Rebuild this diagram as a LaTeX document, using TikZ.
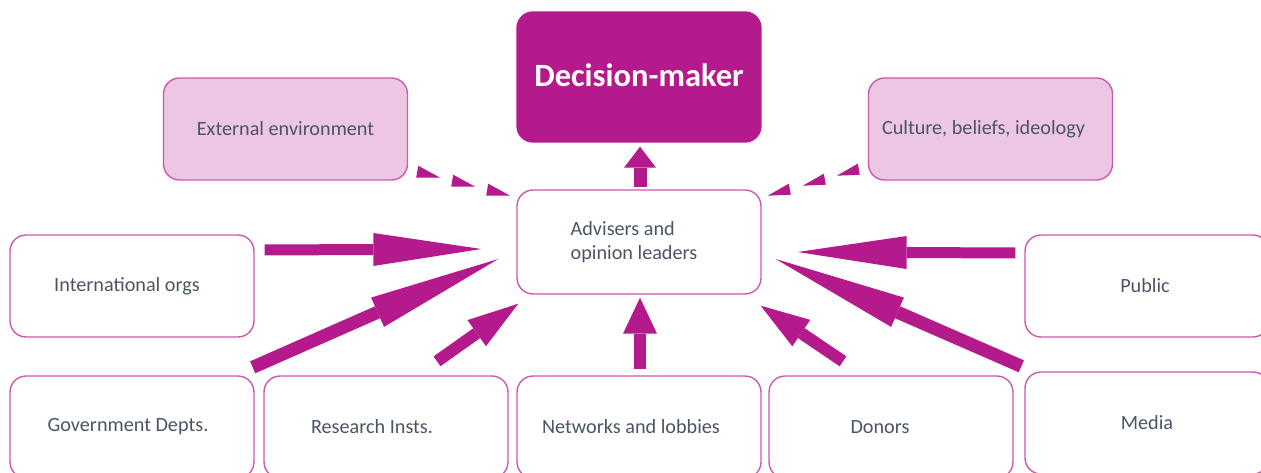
\documentclass[tikz,border=0pt]{standalone}
\usepackage{fontspec}
\setmainfont{Carlito}
\usepackage{tikz}
\usetikzlibrary{arrows.meta}
\definecolor{plum}{HTML}{B41A8B}
\definecolor{pinkfill}{HTML}{EDC6E3}
\definecolor{pinkline}{HTML}{CB5AAE}
\definecolor{txtgrey}{HTML}{4A5663}

\begin{document}
\begin{tikzpicture}[x=0.02cm, y=-0.02cm,
	box/.style={draw=pinkline, line width=0.8pt, rounded corners=0.32cm, fill=white, minimum width=4.88cm, minimum height=2.04cm, inner sep=0pt, text=txtgrey, font=\fontsize{11.5}{13.6}\selectfont},
	softbox/.style={box, fill=pinkfill},
	topbox/.style={box, draw=plum, fill=plum, minimum height=2.6cm, text=white, font=\fontsize{18.5}{22}\selectfont\bfseries},
	flow/.style n args={3}{draw=plum, line width=#1, -{Triangle[length=#2, width=#3, line width=0pt]}}]

	\useasboundingbox (0,0) rectangle (1261,473);

	\node[topbox] (dm) at (639,77) {\raisebox{0.08cm}{Decision-maker}};
	\node[softbox] (ext) at (285.5,129) {External environment};
	\node[softbox] (cult) at (990.5,129) {Culture, beliefs, ideology\kern0.28cm};
	\node[box, minimum height=2.08cm, align=left] (adv) at (639,242) {Advisers and\\opinion leaders\kern0.2cm};

	\node[box] (intl) at (132,286) {\raisebox{-0.04cm}{International orgs}\kern0.2cm};
	\node[box] (pub) at (1147,286) {\raisebox{-0.04cm}{Public}\kern0.08cm};

	\node[box] (gov) at (132,427) {Government Depts.\kern0.16cm};
	\node[box] (res) at (386,427) {Research Insts.\kern0.56cm};
	\node[box] (net) at (639,427) {Networks and lobbies\kern0.32cm};
	\node[box] (don) at (891,427) {Donors\kern0.44cm};
	\node[box] (med) at (1147,423) {Media};

	\draw[flow={0.26cm}{0.42cm}{0.64cm}] ([shift={(1,-2)}]adv.north) -- ([shift={(1,4)}]dm.south);

	\draw[flow={0.22cm}{2.16cm}{0.66cm}] ([shift={(10,-36)}]intl.east) -- ([shift={(-35,7)}]adv.west);
	\draw[flow={0.26cm}{2.64cm}{0.64cm}] ([shift={(-2,-8)}]gov.north east) -- ([shift={(-18,17)}]adv.west);
	\draw[flow={0.24cm}{1.02cm}{0.64cm}] ([shift={(51,-14)}]res.north) -- ([shift={(2,9)}]adv.south west);
	\draw[flow={0.24cm}{0.72cm}{0.68cm}] ([shift={(1,-6)}]net.north) -- ([shift={(1,3)}]adv.south);
	\draw[flow={0.24cm}{0.98cm}{0.64cm}] ([shift={(-48,-14)}]don.north) -- ([shift={(-1,11)}]adv.south east);
	\draw[flow={0.26cm}{2.66cm}{0.64cm}] ([shift={(-3,-5)}]med.north west) -- ([shift={(14,17)}]adv.east);
	\draw[flow={0.22cm}{2.18cm}{0.66cm}] ([shift={(-9,-33)}]pub.west) -- ([shift={(36,10)}]adv.east);

	\foreach \dx/\dy in {8/-3,43/6,78/15}
		\fill[plum] ([shift={(\dx,\dy)}]ext.south east) -- ++(2,-12) -- ++(22,12) -- cycle;
	\foreach \dx/\dy in {-8/-6,-42/4,-77/14}
		\fill[plum] ([shift={(\dx,\dy)}]cult.south west) -- ++(-2,-11) -- ++(-21,12) -- cycle;

\end{tikzpicture}
\end{document}
